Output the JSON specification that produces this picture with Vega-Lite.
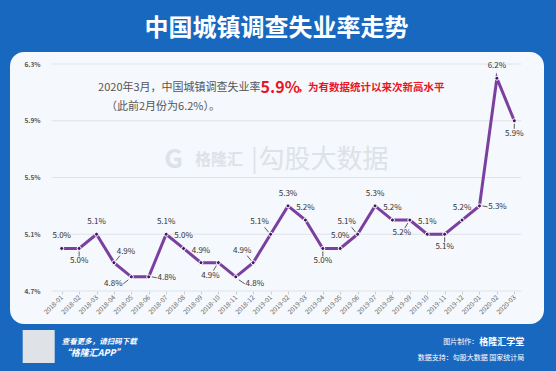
{
  "$schema": "https://vega.github.io/schema/vega-lite/v6.json",
  "width": 534,
  "height": 272,
  "autosize": {"type": "none"},
  "padding": {"left": 10, "top": 52, "right": 12, "bottom": 47},
  "background": "#1968c0",
  "config": {
    "view": {"fill": "#f5f8fc", "stroke": null, "cornerRadius": 14},
    "font": "Noto Sans CJK SC",
    "text": {"font": "Noto Sans CJK SC"}
  },
  "datasets": {
    "rates": [
      {"month": "2018-01", "rate": 5.0},
      {"month": "2018-02", "rate": 5.0},
      {"month": "2018-03", "rate": 5.1},
      {"month": "2018-04", "rate": 4.9},
      {"month": "2018-05", "rate": 4.8},
      {"month": "2018-06", "rate": 4.8},
      {"month": "2018-07", "rate": 5.1},
      {"month": "2018-08", "rate": 5.0},
      {"month": "2018-09", "rate": 4.9},
      {"month": "2018-10", "rate": 4.9},
      {"month": "2018-11", "rate": 4.8},
      {"month": "2018-12", "rate": 4.9},
      {"month": "2019-01", "rate": 5.1},
      {"month": "2019-02", "rate": 5.3},
      {"month": "2019-03", "rate": 5.2},
      {"month": "2019-04", "rate": 5.0},
      {"month": "2019-05", "rate": 5.0},
      {"month": "2019-06", "rate": 5.1},
      {"month": "2019-07", "rate": 5.3},
      {"month": "2019-08", "rate": 5.2},
      {"month": "2019-09", "rate": 5.2},
      {"month": "2019-10", "rate": 5.1},
      {"month": "2019-11", "rate": 5.1},
      {"month": "2019-12", "rate": 5.2},
      {"month": "2020-01", "rate": 5.3},
      {"month": "2020-02", "rate": 6.2},
      {"month": "2020-03", "rate": 5.9}
    ],
    "grid": [{"g": 4.7}, {"g": 5.1}, {"g": 5.5}, {"g": 5.9}, {"g": 6.3}],
    "one": [{}]
  },
  "layer": [
    {
      "data": {"name": "grid"},
      "mark": {"type": "rule", "color": "#dfe4ea", "strokeWidth": 1, "xOffset": -10, "x2Offset": 7},
      "encoding": {
        "y": {"field": "g", "type": "quantitative"},
        "x": {"datum": "2018-01", "type": "ordinal"},
        "x2": {"datum": "2020-03"}
      }
    },
    {
      "data": {"name": "rates"},
      "mark": {"type": "line", "color": "#7b3fa0", "strokeWidth": 3},
      "encoding": {
        "x": {
          "field": "month", "type": "ordinal",
          "scale": {"type": "point", "range": [43, 513]},
          "axis": {"orient": "bottom", "offset": -33, "labelAngle": -45, "labelFontSize": 6.5, "labelColor": "#666", "domain": false, "tickColor": "#c8ced6", "tickSize": 3, "title": null, "grid": false, "labelPadding": 2}
        },
        "y": {
          "field": "rate", "type": "quantitative",
          "scale": {"domain": [4.7, 6.3], "range": [239, 12], "zero": false, "nice": false},
          "axis": {"orient": "left", "offset": -33, "values": [4.7, 5.1, 5.5, 5.9, 6.3], "labelExpr": "format(datum.value,'.1f')+'%'", "grid": false, "domain": false, "ticks": false, "labelFontSize": 6.5, "labelFontWeight": "bold", "labelColor": "#555", "title": null, "labelPadding": 3}
        }
      }
    },
    {
      "data": {"name": "rates"},
      "transform": [{"filter": {"field": "month", "oneOf": ["2018-02","2019-04","2019-11","2020-03"]}}],
      "mark": {"type": "rule", "color": "#333", "strokeWidth": 0.8, "yOffset": 3, "y2Offset": 8},
      "encoding": {"x": {"field": "month", "type": "ordinal"}, "y": {"field": "rate", "type": "quantitative"}, "y2": {"field": "rate"}}
    },
    {
      "data": {"name": "rates"},
      "transform": [{"filter": {"field": "month", "oneOf": ["2018-04"]}}],
      "mark": {"type": "rule", "color": "#333", "strokeWidth": 0.8, "xOffset": 2, "x2Offset": 6, "yOffset": -2, "y2Offset": -7},
      "encoding": {"x": {"field": "month", "type": "ordinal"}, "x2": {"field": "month"}, "y": {"field": "rate", "type": "quantitative"}, "y2": {"field": "rate"}}
    },
    {
      "data": {"name": "rates"},
      "transform": [{"filter": {"field": "month", "oneOf": ["2018-05"]}}],
      "mark": {"type": "rule", "color": "#333", "strokeWidth": 0.8, "xOffset": -8, "x2Offset": -3, "yOffset": 7, "y2Offset": 3},
      "encoding": {"x": {"field": "month", "type": "ordinal"}, "x2": {"field": "month"}, "y": {"field": "rate", "type": "quantitative"}, "y2": {"field": "rate"}}
    },
    {
      "data": {"name": "rates"},
      "transform": [{"filter": {"field": "month", "oneOf": ["2018-06","2020-01"]}}],
      "mark": {"type": "rule", "color": "#333", "strokeWidth": 0.8, "xOffset": 3, "x2Offset": 8, "yOffset": 0, "y2Offset": 1},
      "encoding": {"x": {"field": "month", "type": "ordinal"}, "x2": {"field": "month"}, "y": {"field": "rate", "type": "quantitative"}, "y2": {"field": "rate"}}
    },
    {
      "data": {"name": "rates"},
      "transform": [{"filter": {"field": "month", "oneOf": ["2018-10","2019-09"]}}],
      "mark": {"type": "rule", "color": "#333", "strokeWidth": 0.8, "xOffset": -2, "x2Offset": -5, "yOffset": 3, "y2Offset": 8},
      "encoding": {"x": {"field": "month", "type": "ordinal"}, "x2": {"field": "month"}, "y": {"field": "rate", "type": "quantitative"}, "y2": {"field": "rate"}}
    },
    {
      "data": {"name": "rates"},
      "transform": [{"filter": {"field": "month", "oneOf": ["2018-11"]}}],
      "mark": {"type": "rule", "color": "#333", "strokeWidth": 0.8, "xOffset": 3, "x2Offset": 9, "yOffset": 3, "y2Offset": 7},
      "encoding": {"x": {"field": "month", "type": "ordinal"}, "x2": {"field": "month"}, "y": {"field": "rate", "type": "quantitative"}, "y2": {"field": "rate"}}
    },
    {
      "data": {"name": "rates"},
      "transform": [{"filter": {"field": "month", "oneOf": ["2018-12","2019-01","2019-06"]}}],
      "mark": {"type": "rule", "color": "#333", "strokeWidth": 0.8, "xOffset": -2, "x2Offset": -6, "yOffset": -2, "y2Offset": -7},
      "encoding": {"x": {"field": "month", "type": "ordinal"}, "x2": {"field": "month"}, "y": {"field": "rate", "type": "quantitative"}, "y2": {"field": "rate"}}
    },
    {
      "data": {"name": "rates"},
      "mark": {"type": "point", "filled": true, "fill": "#3d1a5c", "stroke": "#ffffff", "strokeWidth": 1, "size": 16, "opacity": 1},
      "encoding": {
        "x": {"field": "month", "type": "ordinal"},
        "y": {"field": "rate", "type": "quantitative"}
      }
    },
    {
      "data": {"name": "rates"},
      "transform": [{"filter": {"field": "month", "oneOf": ["2018-01","2018-03","2018-07","2018-08","2018-09","2019-02","2019-03","2019-05","2019-07","2019-08","2019-10","2019-12","2020-02"]}}, {"calculate": "format(datum.rate,'.1f')+'%'", "as": "label"}],
      "mark": {"type": "text", "fontSize": 8, "color": "#333", "baseline": "middle", "dx": 0, "dy": -12},
      "encoding": {"x": {"field": "month", "type": "ordinal"}, "y": {"field": "rate", "type": "quantitative"}, "text": {"field": "label"}}
    },
    {
      "data": {"name": "rates"},
      "transform": [{"filter": {"field": "month", "oneOf": ["2018-02","2019-04","2019-11","2020-03"]}}, {"calculate": "format(datum.rate,'.1f')+'%'", "as": "label"}],
      "mark": {"type": "text", "fontSize": 8, "color": "#333", "baseline": "middle", "dx": 0, "dy": 13},
      "encoding": {"x": {"field": "month", "type": "ordinal"}, "y": {"field": "rate", "type": "quantitative"}, "text": {"field": "label"}}
    },
    {
      "data": {"name": "rates"},
      "transform": [{"filter": {"field": "month", "oneOf": ["2018-04"]}}, {"calculate": "format(datum.rate,'.1f')+'%'", "as": "label"}],
      "mark": {"type": "text", "fontSize": 8, "color": "#333", "baseline": "middle", "dx": 12, "dy": -11},
      "encoding": {"x": {"field": "month", "type": "ordinal"}, "y": {"field": "rate", "type": "quantitative"}, "text": {"field": "label"}}
    },
    {
      "data": {"name": "rates"},
      "transform": [{"filter": {"field": "month", "oneOf": ["2018-05"]}}, {"calculate": "format(datum.rate,'.1f')+'%'", "as": "label"}],
      "mark": {"type": "text", "fontSize": 8, "color": "#333", "baseline": "middle", "dx": -18, "dy": 7},
      "encoding": {"x": {"field": "month", "type": "ordinal"}, "y": {"field": "rate", "type": "quantitative"}, "text": {"field": "label"}}
    },
    {
      "data": {"name": "rates"},
      "transform": [{"filter": {"field": "month", "oneOf": ["2018-06","2020-01"]}}, {"calculate": "format(datum.rate,'.1f')+'%'", "as": "label"}],
      "mark": {"type": "text", "fontSize": 8, "color": "#333", "baseline": "middle", "dx": 18, "dy": 1},
      "encoding": {"x": {"field": "month", "type": "ordinal"}, "y": {"field": "rate", "type": "quantitative"}, "text": {"field": "label"}}
    },
    {
      "data": {"name": "rates"},
      "transform": [{"filter": {"field": "month", "oneOf": ["2018-10","2019-09"]}}, {"calculate": "format(datum.rate,'.1f')+'%'", "as": "label"}],
      "mark": {"type": "text", "fontSize": 8, "color": "#333", "baseline": "middle", "dx": -8, "dy": 13},
      "encoding": {"x": {"field": "month", "type": "ordinal"}, "y": {"field": "rate", "type": "quantitative"}, "text": {"field": "label"}}
    },
    {
      "data": {"name": "rates"},
      "transform": [{"filter": {"field": "month", "oneOf": ["2018-11"]}}, {"calculate": "format(datum.rate,'.1f')+'%'", "as": "label"}],
      "mark": {"type": "text", "fontSize": 8, "color": "#333", "baseline": "middle", "dx": 19, "dy": 7},
      "encoding": {"x": {"field": "month", "type": "ordinal"}, "y": {"field": "rate", "type": "quantitative"}, "text": {"field": "label"}}
    },
    {
      "data": {"name": "rates"},
      "transform": [{"filter": {"field": "month", "oneOf": ["2018-12","2019-01","2019-06"]}}, {"calculate": "format(datum.rate,'.1f')+'%'", "as": "label"}],
      "mark": {"type": "text", "fontSize": 8, "color": "#333", "baseline": "middle", "dx": -11, "dy": -12},
      "encoding": {"x": {"field": "month", "type": "ordinal"}, "y": {"field": "rate", "type": "quantitative"}, "text": {"field": "label"}}
    },
    {
      "data": {"name": "one"},
      "mark": {"type": "text", "text": "中国城镇调查失业率走势", "fontSize": 24, "fontWeight": "bold", "color": "#ffffff", "align": "center", "baseline": "middle", "dx": 6},
      "encoding": {"x": {"datum": "2019-01", "type": "ordinal"}, "y": {"datum": 6.547, "type": "quantitative"}}
    },
    {
      "data": {"name": "one"},
      "mark": {"type": "text", "text": "2020年3月，中国城镇调查失业率", "fontSize": 11, "color": "#555", "align": "right", "baseline": "middle", "dx": -10},
      "encoding": {"x": {"datum": "2019-01", "type": "ordinal"}, "y": {"datum": 6.131, "type": "quantitative"}}
    },
    {
      "data": {"name": "one"},
      "mark": {"type": "text", "text": "5.9%", "fontSize": 16, "fontWeight": "bold", "color": "#e8161f", "align": "left", "baseline": "middle", "dx": -10},
      "encoding": {"x": {"datum": "2019-01", "type": "ordinal"}, "y": {"datum": 6.131, "type": "quantitative"}}
    },
    {
      "data": {"name": "one"},
      "mark": {"type": "text", "text": "，为有数据统计以来次新高水平", "fontSize": 10.5, "fontWeight": "bold", "color": "#e8161f", "align": "left", "baseline": "middle", "dx": 27},
      "encoding": {"x": {"datum": "2019-01", "type": "ordinal"}, "y": {"datum": 6.131, "type": "quantitative"}}
    },
    {
      "data": {"name": "one"},
      "mark": {"type": "text", "text": "（此前2月份为6.2%）。", "fontSize": 11, "color": "#555", "align": "left", "baseline": "middle", "dx": -8},
      "encoding": {"x": {"datum": "2018-04", "type": "ordinal"}, "y": {"datum": 5.997, "type": "quantitative"}}
    },
    {
      "data": {"name": "one"},
      "mark": {"type": "text", "text": "G", "fontSize": 26, "fontWeight": "bold", "color": "#dde2e8", "align": "left", "baseline": "middle", "dx": -2},
      "encoding": {"x": {"datum": "2018-07", "type": "ordinal"}, "y": {"datum": 5.623, "type": "quantitative"}}
    },
    {
      "data": {"name": "one"},
      "mark": {"type": "text", "text": "格隆汇", "fontSize": 16, "fontWeight": "bold", "color": "#dde2e8", "align": "left", "baseline": "middle", "dx": -6},
      "encoding": {"x": {"datum": "2018-09", "type": "ordinal"}, "y": {"datum": 5.623, "type": "quantitative"}}
    },
    {
      "data": {"name": "one"},
      "mark": {"type": "text", "text": "|", "fontSize": 24, "color": "#dde2e8", "align": "left", "baseline": "middle", "dx": -2},
      "encoding": {"x": {"datum": "2018-12", "type": "ordinal"}, "y": {"datum": 5.623, "type": "quantitative"}}
    },
    {
      "data": {"name": "one"},
      "mark": {"type": "text", "text": "勾股大数据", "fontSize": 26, "color": "#dde2e8", "align": "left", "baseline": "middle", "dx": -12},
      "encoding": {"x": {"datum": "2019-01", "type": "ordinal"}, "y": {"datum": 5.623, "type": "quantitative"}}
    },
    {
      "data": {"name": "one"},
      "mark": {"type": "rect", "color": "#dfe3e8", "xOffset": -39, "x2Offset": -7},
      "encoding": {"x": {"datum": "2018-01", "type": "ordinal"}, "x2": {"datum": "2018-01"}, "y": {"datum": 4.425, "type": "quantitative"}, "y2": {"datum": 4.193}}
    },
    {
      "data": {"name": "one"},
      "mark": {"type": "text", "text": "查看更多，请扫码下载", "fontSize": 7.5, "fontStyle": "italic", "fontWeight": "bold", "color": "#ffffff", "align": "left", "baseline": "middle", "dx": 0},
      "encoding": {"x": {"datum": "2018-01", "type": "ordinal"}, "y": {"datum": 4.341, "type": "quantitative"}}
    },
    {
      "data": {"name": "one"},
      "mark": {"type": "text", "text": "“格隆汇APP”", "fontSize": 9, "fontStyle": "italic", "fontWeight": "bold", "color": "#ffffff", "align": "left", "baseline": "middle", "dx": 0},
      "encoding": {"x": {"datum": "2018-01", "type": "ordinal"}, "y": {"datum": 4.263, "type": "quantitative"}}
    },
    {
      "data": {"name": "one"},
      "mark": {"type": "text", "text": "格隆汇学堂", "fontSize": 9, "fontWeight": "bold", "color": "#ffffff", "align": "right", "baseline": "middle", "dx": 10},
      "encoding": {"x": {"datum": "2020-03", "type": "ordinal"}, "y": {"datum": 4.341, "type": "quantitative"}}
    },
    {
      "data": {"name": "one"},
      "mark": {"type": "text", "text": "图片制作：", "fontSize": 7, "color": "#ffffff", "align": "right", "baseline": "middle", "dx": -36},
      "encoding": {"x": {"datum": "2020-03", "type": "ordinal"}, "y": {"datum": 4.341, "type": "quantitative"}}
    },
    {
      "data": {"name": "one"},
      "mark": {"type": "text", "text": "数据支持：勾股大数据 国家统计局", "fontSize": 7, "color": "#ffffff", "align": "right", "baseline": "middle", "dx": 10},
      "encoding": {"x": {"datum": "2020-03", "type": "ordinal"}, "y": {"datum": 4.228, "type": "quantitative"}}
    }
  ]
}
